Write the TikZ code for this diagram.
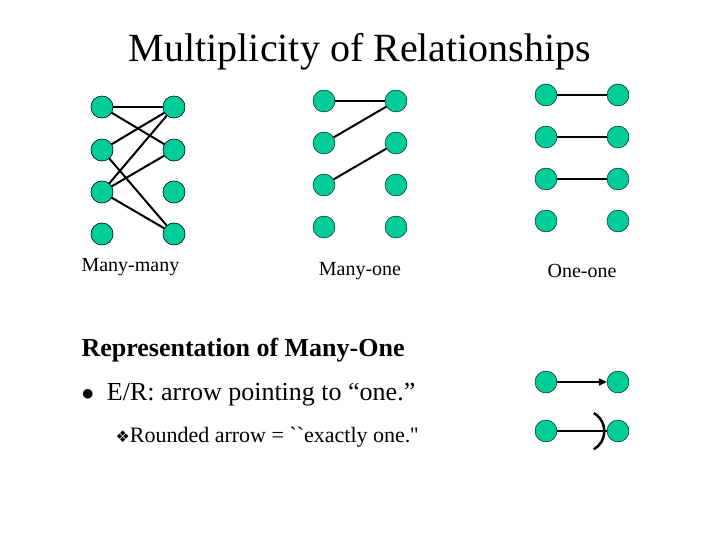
\documentclass[tikz,border=0pt]{standalone}
\usepackage{fontspec}
\setmainfont{Liberation Serif}
\usetikzlibrary{arrows.meta}
\definecolor{dotgreen}{RGB}{0,204,153}
\tikzset{
  dot/.style={circle, draw=black, fill=dotgreen, minimum size=22pt, inner sep=0pt},
  link/.style={line width=2pt, shorten <=-11pt, shorten >=-9pt},
  lbl/.style={font=\fontsize{20}{24}\selectfont}
}
\begin{document}
\begin{tikzpicture}[x=1pt, y=-1pt]
  \useasboundingbox (0,0) rectangle (720,540);
  \node[font=\fontsize{40}{48}\selectfont] (title) at (360,52) {Multiplicity of Relationships};
  % many-many
  \foreach \i/\y in {1/107,2/150,3/192,4/234} {
    \node[dot] (mmL\i) at (102,\y) {};
    \node[dot] (mmR\i) at (174,\y) {};
  }
  \foreach \a/\b in {1/1,1/2,2/1,2/4,3/1,3/2,3/4}
    \draw[line width=2pt] (mmL\a.center) -- (mmR\b.center);
  \foreach \i in {1,...,4} {
    \node[dot] at (mmL\i) {};
    \node[dot] at (mmR\i) {};
  }
  \node[lbl, anchor=west] (mmlbl) at (78,267) {Many-many};
  % many-one
  \foreach \i/\y in {1/101,2/143,3/185,4/227} {
    \node[dot] (moL\i) at (324,\y) {};
    \node[dot] (moR\i) at (396,\y) {};
  }
  \foreach \a/\b in {1/1,2/1,3/2}
    \draw[line width=2pt] (moL\a) -- (moR\b);
  \node[lbl] (molbl) at (360,271) {Many-one};
  % one-one
  \foreach \i/\y in {1/95,2/137,3/179,4/221} {
    \node[dot] (ooL\i) at (546,\y) {};
    \node[dot] (ooR\i) at (618,\y) {};
  }
  \foreach \i in {1,2,3}
    \draw[line width=2pt] (ooL\i) -- (ooR\i);
  \node[lbl] (oolbl) at (582,271) {One-one};
  % representation
  \node[anchor=west, font=\fontsize{26}{30}\selectfont\bfseries] (rep) at (78,350) {Representation of Many-One};
  \node[anchor=west, font=\fontsize{26}{30}\selectfont] (bul) at (78,395) {$\bullet$\ \ E/R: arrow pointing to ``one.''};
  \node[anchor=west, font=\fontsize{22}{26}\selectfont] (sub) at (112,437) {\fontspec{DejaVu Sans}\fontsize{16}{20}\selectfont ❖\fontspec{Liberation Serif}\fontsize{22}{26}\selectfont Rounded arrow = ``exactly one.''};
  \node[dot] (aL) at (546,382) {};
  \node[dot] (aR) at (618,382) {};
  \draw[line width=2pt, -{Triangle[length=8pt,width=7pt]}] (aL) -- (aR);
  \node[dot] (bL) at (546,431) {};
  \node[dot] (bR) at (618,431) {};
  \draw[line width=2pt] (bL) -- (bR.west);
  \draw[line width=2.5pt] ([shift={(-13,-18)}]bR.west) arc[start angle=120, end angle=240, radius=-21];
\end{tikzpicture}
\end{document}
